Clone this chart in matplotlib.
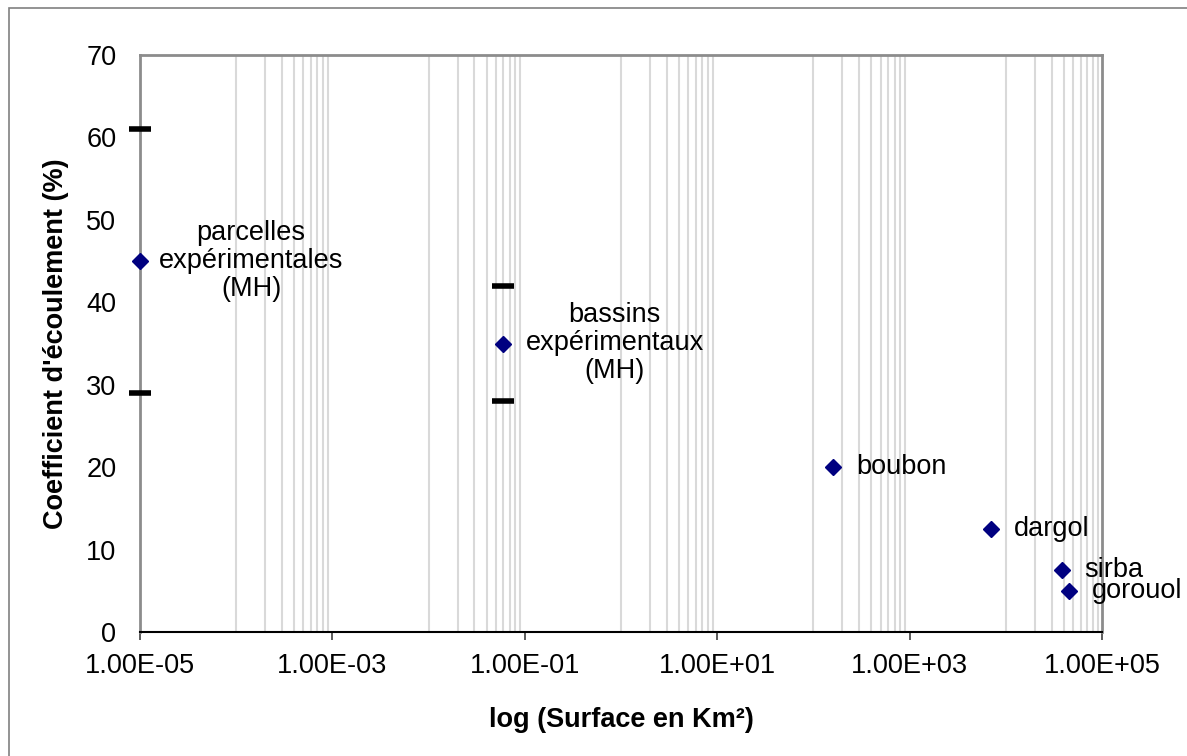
import matplotlib
matplotlib.use('Agg')
import matplotlib.pyplot as plt
from matplotlib.patches import Rectangle
from matplotlib.ticker import FixedLocator, FuncFormatter, NullFormatter

plt.rcParams['font.family'] = ['Liberation Sans', 'DejaVu Sans']

# Points (surface in km², runoff coefficient in %)
labels = ['parcelles\nexpérimentales\n(MH)', 'bassins\nexpérimentaux\n(MH)',
          'boubon', 'dargol', 'sirba', 'gorouol']
surface = [1e-5, 0.06, 160, 7000, 38000, 45000]
coef = [45, 35, 20, 12.5, 7.5, 5]

# min / max markers for the experimental sites
range_surface = [1e-5, 0.06]
range_min = [29, 28]
range_max = [61, 42]

major_ticks = [1e-5, 1e-3, 1e-1, 1e1, 1e3, 1e5]
minor_grid = [k * 10.0 ** e for e in (-4, -2, 0, 2, 4) for k in range(1, 10)]

FS = 19.5

fig = plt.figure(figsize=(11.87, 7.56), dpi=100)
ax = fig.add_axes([140 / 1187, 1 - 632 / 756, (1102 - 140) / 1187, (632 - 55) / 756])

ax.set_xscale('log')
ax.set_xlim(1e-5, 1e5)
ax.set_ylim(0, 70)

for xv in minor_grid:
    ax.axvline(xv, color='#d9d9d9', lw=1.5, zorder=0)

ax.plot(range_surface, range_min, ls='none', marker='_', ms=16, mew=4,
        color='black', zorder=3, clip_on=False)
ax.plot(range_surface, range_max, ls='none', marker='_', ms=16, mew=4,
        color='black', zorder=3, clip_on=False)
ax.plot(surface, coef, ls='none', marker='D', ms=8.5, color='#000080',
        zorder=4, clip_on=False)

# labels: first two are centered blocks, others left aligned next to point
for lab, xv, yv in zip(labels[:2], surface[:2], coef[:2]):
    ax.annotate(lab, (xv, yv), xytext=(80, 0), textcoords='offset points',
                ha='center', va='center', fontsize=FS, linespacing=1.1)
for lab, xv, yv in zip(labels[2:], surface[2:], coef[2:]):
    ax.annotate(lab, (xv, yv), xytext=(16.5, 0), textcoords='offset points',
                ha='left', va='center', fontsize=FS)

ax.xaxis.set_major_locator(FixedLocator(major_ticks))
ax.xaxis.set_major_formatter(FuncFormatter(lambda v, p: f"{v:.2E}"))
ax.xaxis.set_minor_locator(FixedLocator([]))
ax.xaxis.set_minor_formatter(NullFormatter())
ax.set_yticks(range(0, 71, 10))

ax.tick_params(axis='x', direction='out', length=6, width=1.2, color='#404040',
               labelsize=FS, pad=9)
ax.tick_params(axis='y', length=0, labelsize=FS, pad=17)

for side in ('left', 'top', 'right'):
    ax.spines[side].set_color('#8c8c8c')
    ax.spines[side].set_linewidth(2)
ax.spines['bottom'].set_color('black')
ax.spines['bottom'].set_linewidth(1.5)

ax.set_xlabel('log (Surface en Km²)', fontsize=FS, fontweight='bold', labelpad=20)
ax.set_ylabel("Coefficient d'écoulement (%)", fontsize=FS, fontweight='bold',
              labelpad=12)

# thin frame around the whole chart
fig.patches.append(Rectangle((9 / 1187, -0.05), 1.1, 1 - 8 / 756 + 0.05,
                             transform=fig.transFigure, fill=False,
                             edgecolor='#808080', lw=1.2))

fig.savefig('out.png', dpi=100)
